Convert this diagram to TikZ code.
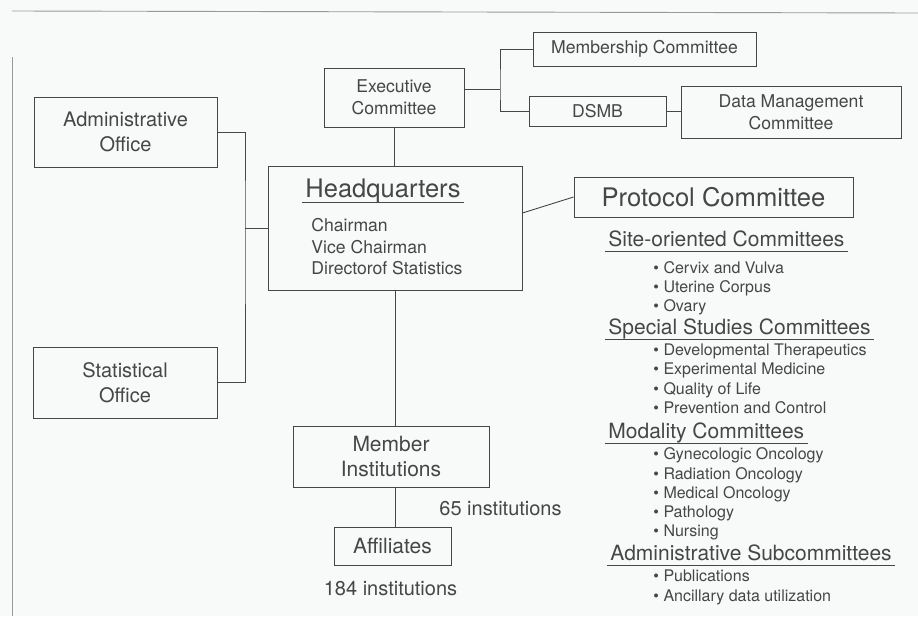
\documentclass[tikz,border=0pt]{standalone}
\usepackage{fontspec}
\setmainfont{TeX Gyre Heros}
\usetikzlibrary{positioning}
\definecolor{ink}{RGB}{70,70,70}
\definecolor{paper}{RGB}{248,249,249}

\begin{document}
\begin{tikzpicture}[x=1pt,y=-1pt,line width=0.9pt,color=ink,
        box/.style={draw,inner sep=0pt,align=center,font=\fontsize{20}{25}\selectfont},
        smallbox/.style={box,font=\fontsize{17.6}{22}\selectfont},
        heading/.style={inner xsep=3pt,inner ysep=4pt,text height=15pt,text depth=0pt,anchor=south west,font=\fontsize{21}{25}\selectfont},
        items/.style={inner sep=0pt,align=left,anchor=north west,font=\fontsize{16}{19.3}\selectfont},
        staff/.style={items,font=\fontsize{17.6}{21.5}\selectfont},
        count/.style={inner sep=0pt,font=\fontsize{20}{24}\selectfont}]
        \fill[paper] (0,0) rectangle (918,616);
        \useasboundingbox (0,0) rectangle (918,616);
        \draw[gray!80] (12,11) -- (918,13);
        \draw[gray!80] (12,57) -- (12,616);
        % left offices
        \node[box,minimum width=183pt,minimum height=70pt] (adm) at (125.5,132) {Administrative\\Office};
        \node[box,minimum width=184pt,minimum height=71pt] (stat) at (125,382.5) {Statistical\\Office};
        % top committees
        \node[smallbox,minimum width=140pt,minimum height=59pt] (exec) at (394,97.5) {Executive\\Committee};
        \node[smallbox,minimum width=223pt,minimum height=34pt] (memb) at (644.5,49) {Membership Committee};
        \node[smallbox,minimum width=137pt,minimum height=30pt] (dsmb) at (597.5,111) {DSMB};
        \node[smallbox,minimum width=220pt,minimum height=52pt] (dmc) at (791,112) {Data Management\\Committee};
        % headquarters
        \node[draw,minimum width=254pt,minimum height=124pt] (hq) at (395,228) {};
        \node[heading,text height=18pt,font=\fontsize{25.5}{30}\selectfont] (hqtitle) at (302,202) {Headquarters};
        \node[staff] (hqstaff) at (311,218) {Chairman\\Vice Chairman\\Directorof Statistics};
        % members
        \node[box,font=\fontsize{21}{25}\selectfont,minimum width=196pt,minimum height=61pt] (mem) at (391,456.5) {Member\\Institutions};
        \node[box,font=\fontsize{21}{25}\selectfont,minimum width=117pt,minimum height=38pt] (aff) at (392.5,546) {Affiliates};
        \node[count] (n65) at (500.5,509) {65 institutions};
        \node[count] (n184) at (390.5,589) {184 institutions};
        % protocol committee
        \node[box,font=\fontsize{25.6}{30}\selectfont,minimum width=279pt,minimum height=40pt] (proto) at (713.5,197) {Protocol Committee};
        \node[heading] (site) at (605,251) {Site-oriented Committees};
        \node[items] (sitelist) at (653,260.7) {\textbullet\ Cervix and Vulva\\\textbullet\ Uterine Corpus\\\textbullet\ Ovary};
        \node[heading] (special) at (605,339) {Special Studies Committees};
        \node[items] (speclist) at (653,343.3) {\textbullet\ Developmental Therapeutics\\\textbullet\ Experimental Medicine\\\textbullet\ Quality of Life\\\textbullet\ Prevention and Control};
        \node[heading] (modal) at (605,443) {Modality Committees};
        \node[items] (modlist) at (653,447.3) {\textbullet\ Gynecologic Oncology\\\textbullet\ Radiation Oncology\\\textbullet\ Medical Oncology\\\textbullet\ Pathology\\\textbullet\ Nursing};
        \node[heading] (admsub) at (607,565) {Administrative Subcommittees};
        \node[items] (admlist) at (653,569.7) {\textbullet\ Publications\\\textbullet\ Ancillary data utilization};
        \foreach \h in {hqtitle,site,special,modal,admsub}
            \draw (\h.south west) -- (\h.south east);
        % connectors
        \coordinate (spine) at (245,228);
        \coordinate (fork) at (500,89);
        \draw (adm.east) -| (spine) |- (stat.east);
        \draw (hq.west) -- (spine);
        \draw (exec.south) -- (exec.south |- hq.north);
        \draw ([yshift=8.5pt]exec.east) -- (fork);
        \draw (memb.west) -| (fork) |- (dsmb.west);
        \draw (dsmb.east) -- (dsmb.east -| dmc.west);
        \draw ([yshift=15pt]hq.east) -- (proto.west);
        \draw (hq.south) -- (hq.south |- mem.north);
        \draw (hq.south |- mem.south) -- (hq.south |- aff.north);
    \end{tikzpicture}
\end{document}
